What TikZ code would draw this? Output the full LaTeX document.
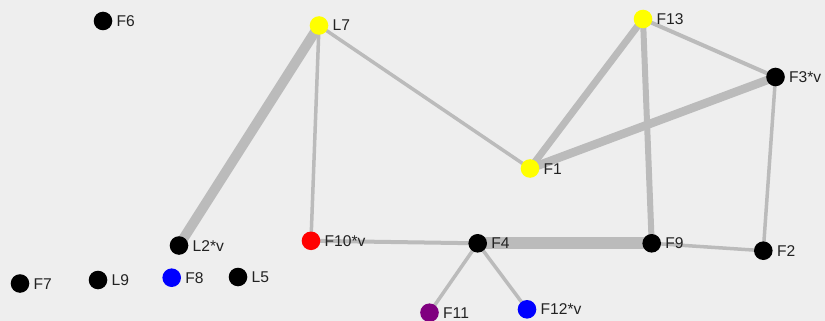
\documentclass[tikz,border=0pt]{standalone}
\usepackage{fontspec}
\setmainfont{Liberation Sans}
\definecolor{bg}{HTML}{EEEEEE}
\definecolor{edge}{HTML}{BBBBBB}
\definecolor{txt}{HTML}{222222}
\definecolor{nyellow}{HTML}{FFFF00}
\definecolor{nred}{HTML}{FF0000}
\definecolor{nblue}{HTML}{0000FF}
\definecolor{npurple}{HTML}{800080}
\begin{document}
\begin{tikzpicture}[x=1pt,y=-1pt,
  dot/.style={circle,minimum size=18.6pt,inner sep=0pt},
  lbl/.style={anchor=base west,inner sep=0pt,text=txt,font=\fontsize{15.6}{15.6}\selectfont},
  link/.style={draw=edge,line width=#1pt},
  link/.default=3.5]
\fill[bg] (0,0) rectangle (825,321);
\useasboundingbox (0,0) rectangle (825,321);
% node positions
\node[dot] (F6) at (103,21) {};
\node[dot] (L7) at (319,25.5) {};
\node[dot] (F13) at (643,19) {};
\node[dot] (F3v) at (775.5,77) {};
\node[dot] (F1) at (530,168.5) {};
\node[dot] (L2v) at (179,245.5) {};
\node[dot] (F10v) at (311,240.8) {};
\node[dot] (F4) at (477.7,243.3) {};
\node[dot] (F9) at (651.7,243.3) {};
\node[dot] (F2) at (763.3,250.7) {};
\node[dot] (F7) at (20,283.5) {};
\node[dot] (L9) at (98,280) {};
\node[dot] (F8) at (171.7,277.7) {};
\node[dot] (L5) at (238,277) {};
\node[dot] (F11) at (429.5,312.7) {};
\node[dot] (F12v) at (527,309.3) {};
% edges
\path (L7.center) edge[link=10] (L2v.center);
\path (L7.center) edge[link] (F10v.center);
\path (L7.center) edge[link] (F1.center);
\path (F13.center) edge[link=7] (F1.center);
\path (F13.center) edge[link=6] (F9.center);
\path (F13.center) edge[link=4] (F3v.center);
\path (F3v.center) edge[link=8.5] (F1.center);
\path (F3v.center) edge[link] (F2.center);
\path (F10v.center) edge[link=4] (F4.center);
\path (F4.center) edge[link=12] (F9.center);
\path (F9.center) edge[link] (F2.center);
\path (F4.center) edge[link] (F11.center);
\path (F4.center) edge[link] (F12v.center);
% dots on top of edges
\foreach \n/\c in {F6/black,L7/nyellow,F13/nyellow,F3v/black,F1/nyellow,L2v/black,F10v/nred,F4/black,F9/black,F2/black,F7/black,L9/black,F8/nblue,L5/black,F11/npurple,F12v/nblue}
  \fill[\c] (\n.center) circle (9.3);
% labels
\foreach \n/\t in {F6/F6,L7/L7,F13/F13,F3v/F3*v,F1/F1,L2v/L2*v,F10v/F10*v,F4/F4,F9/F9,F2/F2,F7/F7,L9/L9,F8/F8,L5/L5,F11/F11,F12v/F12*v}
  \node[lbl] (t\n) at ([xshift=13.5pt,yshift=-5.5pt]\n.center) {\t};
\end{tikzpicture}
\end{document}
